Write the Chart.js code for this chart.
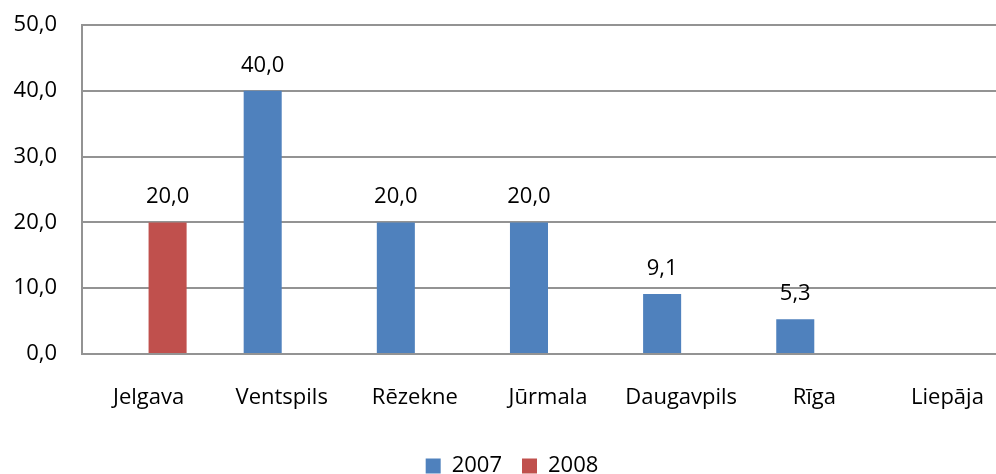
<!DOCTYPE html>
<html>
<head>
    <meta charset="UTF-8">
    <title>Pilsētas</title>
    <style>
        html, body {
            margin: 0;
            padding: 0;
            background: white;
            overflow: hidden;
        }
        #wrap {
            width: 1032px;
            height: 474px;
        }
    </style>
    <script src="https://cdn.jsdelivr.net/npm/chart.js"></script>
</head>
<body>
    <div id="wrap"><canvas id="grafiks" width="1032" height="474"></canvas></div>

    <script>
        var pilsetas = ['Jelgava', 'Ventspils', 'Rēzekne', 'Jūrmala', 'Daugavpils', 'Rīga', 'Liepāja'];
        var gadi = ['2007', '2008'];
        var vertibas2007 = [null, 40.0, 20.0, 20.0, 9.1, 5.3, null];
        var vertibas2008 = [20.0, null, null, null, null, null, null];
        var yMin = 0, yMax = 50, ySolis = 10;

        var fonts = '"Open Sans", Lato, sans-serif';
        var pelekais = '#939393';

        function formatet(v) {
            return Number(v).toFixed(1).replace('.', ',');
        }

        // vērtības virs stabiņiem
        var vertibuUzraksti = {
            id: 'vertibuUzraksti',
            afterDatasetsDraw: function (chart) {
                var ctx = chart.ctx;
                ctx.save();
                ctx.font = '22px ' + fonts;
                ctx.fillStyle = '#000';
                ctx.textAlign = 'center';
                ctx.textBaseline = 'alphabetic';
                chart.data.datasets.forEach(function (ds, i) {
                    var meta = chart.getDatasetMeta(i);
                    meta.data.forEach(function (bar, j) {
                        var v = ds.data[j];
                        if (v === null || v === undefined) return;
                        ctx.fillText(formatet(v), bar.x, bar.y - 19);
                    });
                });
                ctx.restore();
            }
        };

        new Chart(document.getElementById('grafiks').getContext('2d'), {
            type: 'bar',
            data: {
                labels: pilsetas,
                datasets: [{
                    label: gadi[0],
                    data: vertibas2007,
                    backgroundColor: '#4F81BD'
                }, {
                    label: gadi[1],
                    data: vertibas2008,
                    backgroundColor: '#C0504D'
                }]
            },
            options: {
                responsive: false,
                animation: false,
                devicePixelRatio: 1,
                categoryPercentage: 0.5714,
                barPercentage: 1.0,
                layout: {
                    // apakšā negatīvs, lai leģenda būtu tuvāk malai
                    padding: { left: 10, right: 18, top: 25, bottom: -13 }
                },
                plugins: {
                    tooltip: { enabled: false },
                    legend: {
                        position: 'bottom',
                        labels: {
                            boxWidth: 15,
                            boxHeight: 15,
                            padding: 20,
                            color: '#000',
                            font: { family: fonts, size: 22 }
                        }
                    }
                },
                scales: {
                    x: {
                        grid: { display: false },
                        border: { display: true, color: pelekais, width: 2 },
                        ticks: {
                            color: '#000',
                            padding: 23,
                            maxRotation: 0,
                            font: { family: fonts, size: 22 }
                        },
                        afterFit: function (scale) { scale.height = 81; }
                    },
                    y: {
                        min: yMin,
                        max: yMax,
                        grid: { color: pelekais, lineWidth: 2, drawTicks: false },
                        border: { display: true, color: pelekais, width: 2 },
                        ticks: {
                            stepSize: ySolis,
                            color: '#000',
                            padding: 25,
                            font: { family: fonts, size: 22 },
                            callback: function (v) { return formatet(v); }
                        },
                        afterFit: function (scale) {
                            scale.width = 72;
                            scale.paddingTop = 0;
                            scale.paddingBottom = 0;
                        }
                    }
                }
            },
            plugins: [vertibuUzraksti]
        });
    </script>
</body>
</html>
